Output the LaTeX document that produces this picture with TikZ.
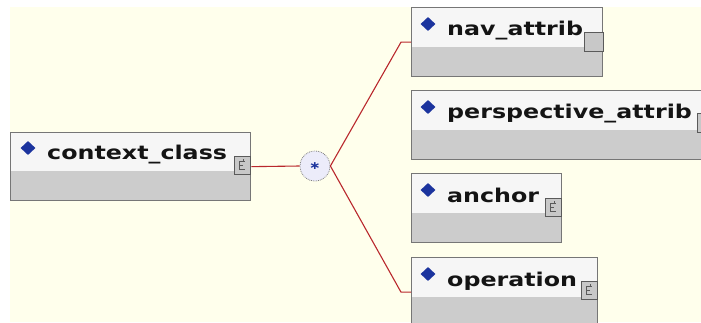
\documentclass[tikz,border=0pt]{standalone}
\usepackage{fontspec}
\usetikzlibrary{calc,shapes.geometric}
\newfontfamily\lblfont{DejaVu Sans}[FakeStretch=1.25]

\definecolor{canvas}{RGB}{255,255,236}
\definecolor{boxedge}{RGB}{118,118,118}
\definecolor{boxtop}{RGB}{246,246,246}
\definecolor{boxbot}{RGB}{204,204,204}
\definecolor{wire}{RGB}{185,40,45}
\definecolor{mark}{RGB}{28,52,158}
\definecolor{iconfill}{RGB}{200,200,200}
\definecolor{iconedge}{RGB}{90,90,90}
\definecolor{choicefill}{RGB}{236,236,250}

\tikzset{
  elembox/.style={rectangle, draw=boxedge, line width=1.3pt, fill=boxtop,
    minimum height=69pt, inner sep=0pt, anchor=north west,
    path picture={\fill[boxbot] ([yshift=30pt]path picture bounding box.south west)
      rectangle (path picture bounding box.south east);}},
  lbl/.style={inner sep=0pt, anchor=base west, text=black!92,
    font=\fontsize{19pt}{19pt}\selectfont\lblfont\bfseries},
  gem/.style={diamond, fill=mark, draw=none, inner sep=0pt,
    minimum width=15pt, minimum height=14pt},
  ctype/.style={rectangle, draw=iconedge, fill=iconfill, line width=0.8pt,
    inner sep=0pt, minimum width=16pt, minimum height=18pt, anchor=north east,
    path picture={
      \draw[iconedge, line width=0.9pt]
        ([xshift=3pt,yshift=4pt]path picture bounding box.center) --
        ([xshift=-2pt,yshift=4pt]path picture bounding box.center) --
        ([xshift=-2pt,yshift=-4pt]path picture bounding box.center) --
        ([xshift=3pt,yshift=-4pt]path picture bounding box.center);
      \draw[iconedge, line width=0.9pt]
        ([xshift=-2pt,yshift=0pt]path picture bounding box.center) --
        ([xshift=1pt,yshift=0pt]path picture bounding box.center);
      \draw[iconedge, line width=0.9pt]
        ([xshift=2pt,yshift=4pt]path picture bounding box.center) --
        ([xshift=2pt,yshift=6.5pt]path picture bounding box.center);}},
  plainicon/.style={rectangle, draw=iconedge, fill=iconfill, line width=0.8pt,
    inner sep=0pt, minimum width=19pt, minimum height=19pt, anchor=north east},
  choice/.style={circle, draw=gray, densely dotted, line width=0.8pt,
    fill=choicefill, minimum size=30pt, inner sep=0pt},
  wireline/.style={draw=wire, line width=1.1pt}
}

\begin{document}
\begin{tikzpicture}[x=1pt,y=-1pt]
  \useasboundingbox (0,0) rectangle (701,322);
  \clip (0,0) rectangle (701,322);
  % canvas
  \fill[white] (0,0) rectangle (701,322);
  \fill[canvas] (10,7) rectangle (701,322);

  % element boxes
  \node[elembox, minimum width=240pt, minimum height=68pt] (ctx) at (10,132) {};
  \node[elembox, minimum width=191pt] (nav)   at (411,7)   {};
  \node[elembox, minimum width=304pt] (persp) at (411,90)  {};
  \node[elembox, minimum width=150pt] (anc)   at (411,173) {};
  \node[elembox, minimum width=186pt] (op)    at (411,257) {};

  % names
  \node[lbl] (ctxname)   at ($(ctx.north west)+(37,27.5)$)   {context\_class};
  \node[lbl] (navname)   at ($(nav.north west)+(36,28)$)     {nav\_attrib};
  \node[lbl] (perspname) at ($(persp.north west)+(36,28)$)   {perspective\_attrib};
  \node[lbl] (ancname)   at ($(anc.north west)+(36,29.5)$)   {anchor};
  \node[lbl] (opname)    at ($(op.north west)+(36,29)$)      {operation};

  % element markers
  \node[gem] (ctxgem)   at ($(ctx.north west)+(18,16)$)   {};
  \node[gem] (navgem)   at ($(nav.north west)+(17,17)$)   {};
  \node[gem] (perspgem) at ($(persp.north west)+(17,17)$) {};
  \node[gem] (ancgem)   at ($(anc.north west)+(17,17)$)   {};
  \node[gem] (opgem)    at ($(op.north west)+(17,17)$)    {};

  % type icons
  \node[ctype]     (ctxicon)   at ($(ctx.north east)+(-1,24)$)  {};
  \node[plainicon] (navicon)   at ($(nav.north east)+(0,25)$)   {};
  \node[plainicon] (perspicon) at ($(persp.north east)+(0,23)$) {};
  \node[ctype]     (ancicon)   at ($(anc.north east)+(-1,25)$)  {};
  \node[ctype]     (opicon)    at ($(op.north east)+(-1,24)$)   {};

  % sequence compositor
  \node[choice] (star) at (315,166)
    {\textcolor{mark}{\fontsize{11pt}{11pt}\selectfont\lblfont\bfseries ∗}};

  % connectors
  \draw[wireline] (ctx.east) -- (star.west);
  \draw[wireline] (star.east) -- ($(nav.west)+(-10,0)$) -- (nav.west);
  \draw[wireline] (star.east) -- ($(op.west)+(-10,0)$) -- (op.west);
\end{tikzpicture}
\end{document}
